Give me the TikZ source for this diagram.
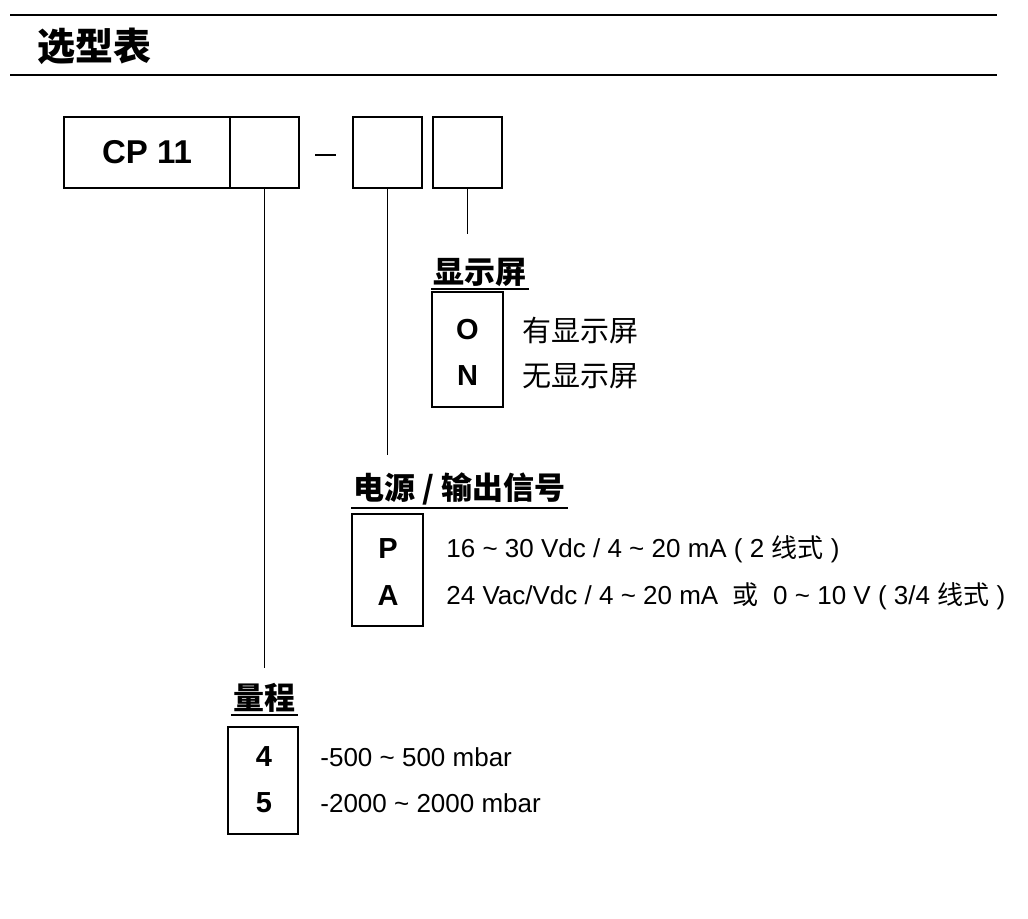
\documentclass[tikz,border=0pt]{standalone}
\usepackage{fontspec}
\setmainfont{Liberation Sans}
\newfontfamily\cjk{Noto Sans CJK SC}
\usetikzlibrary{positioning}
\tikzstyle{codebox}=[draw,line width=1pt,minimum width=34.5pt,minimum height=35.5pt,inner sep=0pt]
\tikzstyle{optbox}=[draw,line width=1pt,minimum width=35.5pt,inner sep=0pt]
\tikzstyle{optkey}=[font=\fontsize{14.5}{16}\selectfont\bfseries,inner sep=0pt]
\tikzstyle{opttext}=[anchor=west,font=\fontsize{13}{15}\selectfont,inner sep=0pt]
\tikzstyle{heading}=[anchor=south west,inner sep=1pt,font=\cjk\fontsize{15.5}{17}\selectfont\bfseries]
\tikzstyle{lead} = [draw,line width=0.8pt]
\newcommand{\zh}[1]{{\cjk\fontsize{13}{15}\selectfont #1}}

\begin{document}
\begin{tikzpicture}[x=0.5pt,y=-0.5pt]
    \useasboundingbox (0,0) rectangle (1028,918);

    % page rules and title
    \draw[line width=0.7pt] (10,15) -- (997,15);
    \draw[line width=1.2pt] (10,75) -- (997,75);
    \node[anchor=west,inner sep=0pt,font=\cjk\fontsize{19}{21}\selectfont\bfseries] (title) at (37,46) {选型表};

    % order code
    \node[codebox, minimum width=83pt, font=\fontsize{16.5}{18}\selectfont\bfseries] (cp) at (147,152.5) {CP 11};
    \foreach \x/\name in {264.5/b2, 387.5/b3, 467.5/b4}
        \node[codebox] (\name) at (\x,152.5) {};
    \draw[line width=0.8pt] (315,155) -- (336,155);

    % headings
    \node[heading] (disp) at (431,289) {显示屏};
    \node[heading] (pwr) at (351,508) {电源 / 输出信号};
    \node[heading] (rng) at (231,715) {量程};
    \foreach \name in {disp, pwr, rng}
        \draw[line width=0.9pt] (\name.south west) -- (\name.south east);

    \foreach \source/ \dest /\gap in {b4/disp/11pt, b3/pwr/8pt, b2/rng/6.5pt}
        \path[lead, shorten >=\gap] (\source.south) -- (\source.south |- \dest.north);

    % option boxes
    \node[optbox, minimum height=57.5pt] (dispbox) at (467.5,349.5) {};
    \node[optbox, minimum height=56pt] (pwrbox) at (387.5,570) {};
    \node[optbox, minimum width=35pt, minimum height=53.5pt] (rngbox) at (263,780.5) {};

    \foreach \x/\y/\name/\key in {467.5/330/kO/O, 467.5/376/kN/N, 388/549/kP/P, 388/596/kA/A, 264/757/k4/4, 264/803/k5/5}
        \node[optkey] (\name) at (\x,\y) {\key};

    \node[opttext, font=\cjk\fontsize{14.5}{16}\selectfont] (tO) at (522,330) {有显示屏};
    \node[opttext, font=\cjk\fontsize{14.5}{16}\selectfont] (tN) at (522,376) {无显示屏};
    \node[opttext] (tP) at (446,549) {16 \textasciitilde{} 30 Vdc / 4 \textasciitilde{} 20 mA ( 2 \zh{线式} )};
    \node[opttext] (tA) at (446,596) {24 Vac/Vdc / 4 \textasciitilde{} 20 mA \ \zh{或} \ 0 \textasciitilde{} 10 V ( 3/4 \zh{线式} )};
    \node[opttext] (t4) at (320,757) {-500 \textasciitilde{} 500 mbar};
    \node[opttext] (t5) at (320,803) {-2000 \textasciitilde{} 2000 mbar};

\end{tikzpicture}
\end{document}
